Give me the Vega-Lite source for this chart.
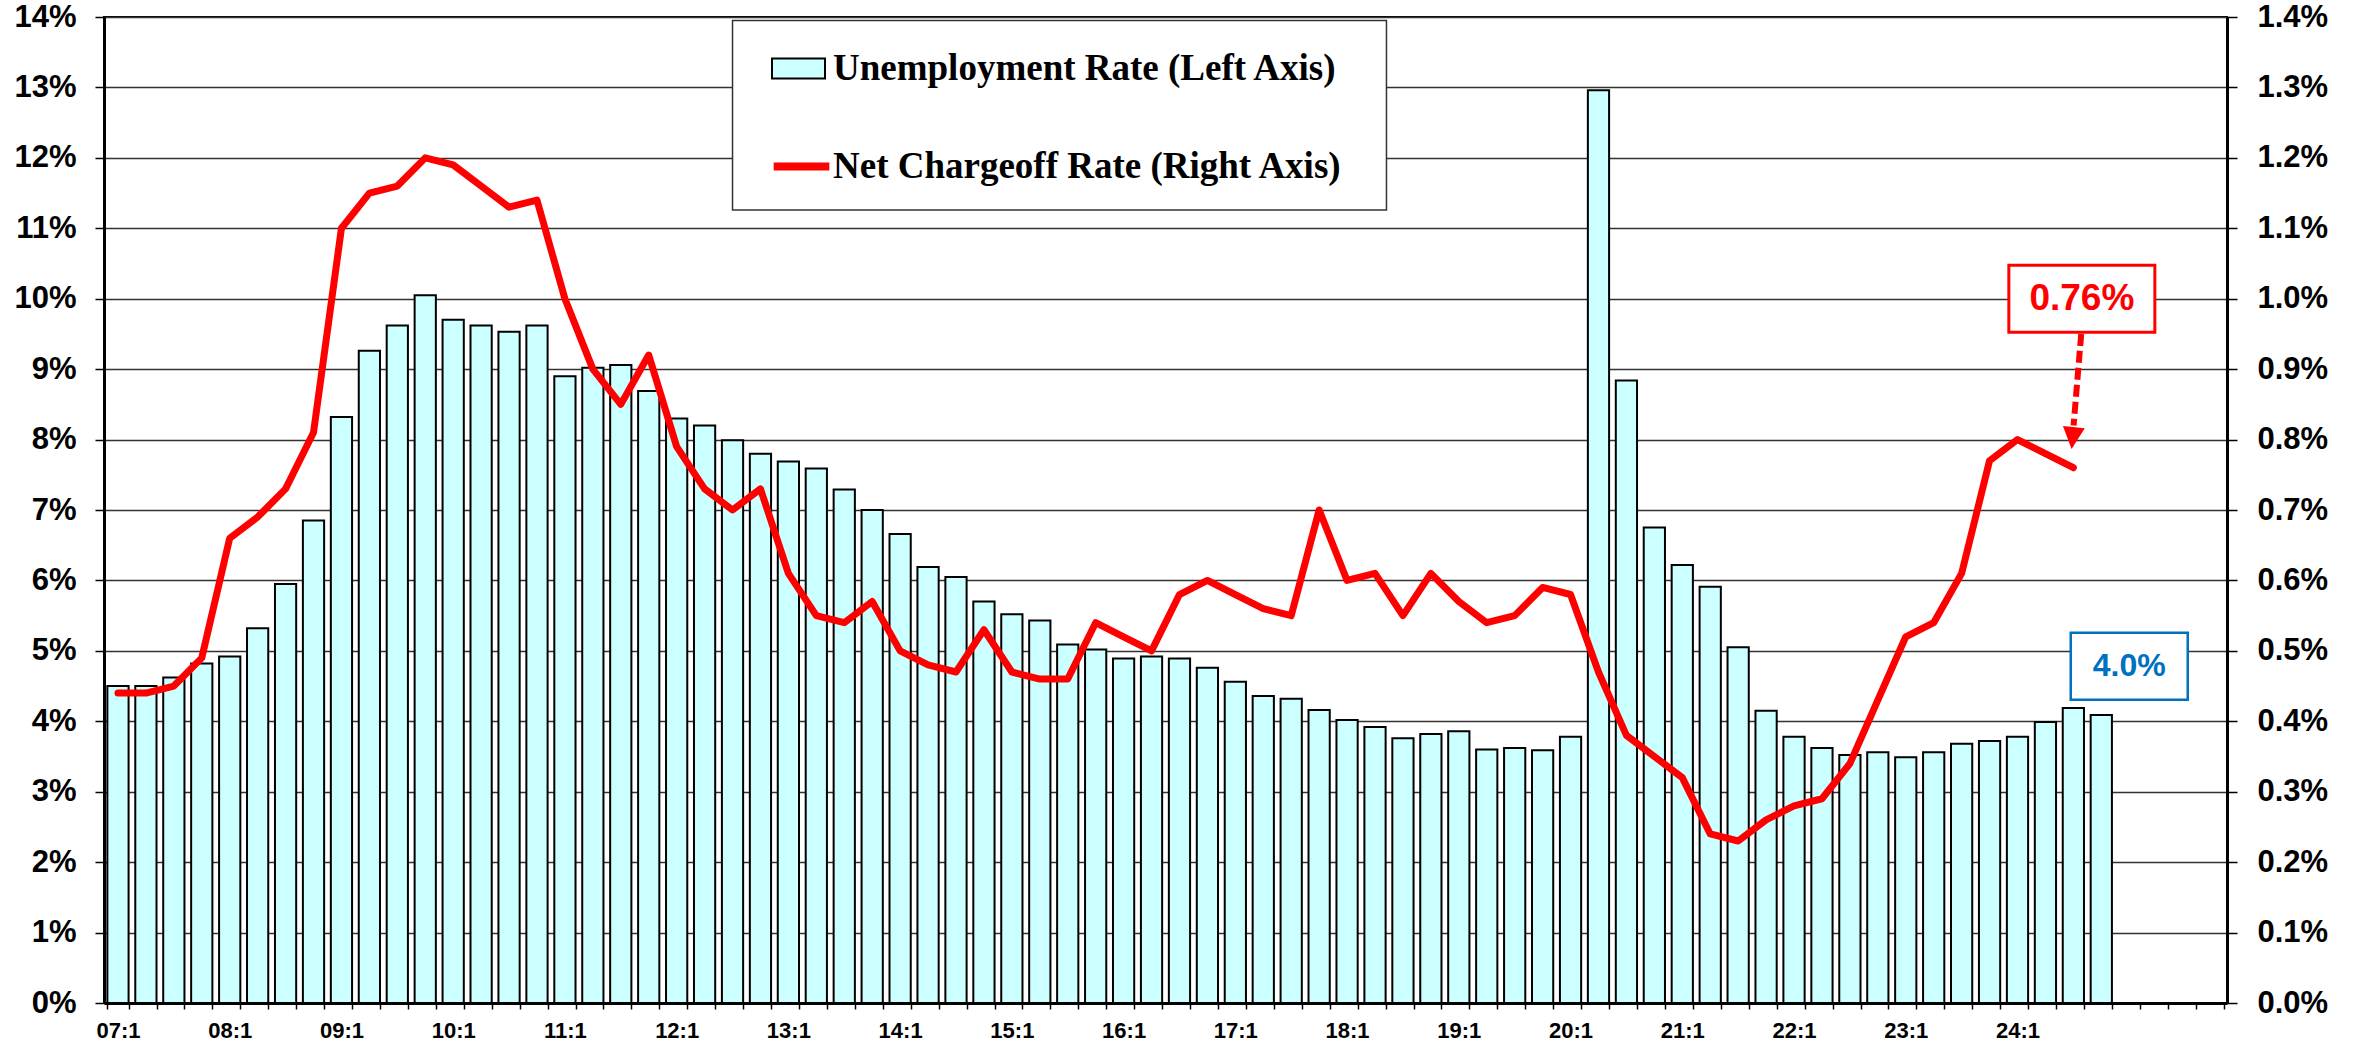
{
  "$schema": "https://vega.github.io/schema/vega-lite/v6.json",
  "autosize": {"type": "none"},
  "padding": {"left": 104, "top": 17, "right": 129, "bottom": 39},
  "width": 2123,
  "height": 986,
  "background": "white",
  "config": {"view": {"stroke": "black", "strokeWidth": 2}, "font": "Liberation Sans"},
  "data": {"values": [
    {"q":"07:1","u":4.5,"n":0.44},{"q":"07:2","u":4.5,"n":0.44},{"q":"07:3","u":4.62,"n":0.45},{"q":"07:4","u":4.82,"n":0.49},
    {"q":"08:1","u":4.92,"n":0.66},{"q":"08:2","u":5.32,"n":0.69},{"q":"08:3","u":5.95,"n":0.73},{"q":"08:4","u":6.85,"n":0.81},
    {"q":"09:1","u":8.32,"n":1.10},{"q":"09:2","u":9.26,"n":1.15},{"q":"09:3","u":9.62,"n":1.16},{"q":"09:4","u":10.05,"n":1.20},
    {"q":"10:1","u":9.70,"n":1.19},{"q":"10:2","u":9.62,"n":1.16},{"q":"10:3","u":9.53,"n":1.13},{"q":"10:4","u":9.62,"n":1.14},
    {"q":"11:1","u":8.90,"n":1.00},{"q":"11:2","u":9.02,"n":0.90},{"q":"11:3","u":9.06,"n":0.85},{"q":"11:4","u":8.69,"n":0.92},
    {"q":"12:1","u":8.30,"n":0.79},{"q":"12:2","u":8.20,"n":0.73},{"q":"12:3","u":7.99,"n":0.70},{"q":"12:4","u":7.80,"n":0.73},
    {"q":"13:1","u":7.69,"n":0.61},{"q":"13:2","u":7.59,"n":0.55},{"q":"13:3","u":7.29,"n":0.54},{"q":"13:4","u":7.00,"n":0.57},
    {"q":"14:1","u":6.66,"n":0.50},{"q":"14:2","u":6.19,"n":0.48},{"q":"14:3","u":6.05,"n":0.47},{"q":"14:4","u":5.70,"n":0.53},
    {"q":"15:1","u":5.52,"n":0.47},{"q":"15:2","u":5.43,"n":0.46},{"q":"15:3","u":5.09,"n":0.46},{"q":"15:4","u":5.02,"n":0.54},
    {"q":"16:1","u":4.89,"n":0.52},{"q":"16:2","u":4.92,"n":0.50},{"q":"16:3","u":4.89,"n":0.58},{"q":"16:4","u":4.76,"n":0.60},
    {"q":"17:1","u":4.56,"n":0.58},{"q":"17:2","u":4.36,"n":0.56},{"q":"17:3","u":4.32,"n":0.55},{"q":"17:4","u":4.16,"n":0.70},
    {"q":"18:1","u":4.02,"n":0.60},{"q":"18:2","u":3.92,"n":0.61},{"q":"18:3","u":3.76,"n":0.55},{"q":"18:4","u":3.82,"n":0.61},
    {"q":"19:1","u":3.86,"n":0.57},{"q":"19:2","u":3.60,"n":0.54},{"q":"19:3","u":3.62,"n":0.55},{"q":"19:4","u":3.59,"n":0.59},
    {"q":"20:1","u":3.78,"n":0.58},{"q":"20:2","u":12.96,"n":0.47},{"q":"20:3","u":8.84,"n":0.38},{"q":"20:4","u":6.75,"n":0.35},
    {"q":"21:1","u":6.22,"n":0.32},{"q":"21:2","u":5.91,"n":0.24},{"q":"21:3","u":5.05,"n":0.23},{"q":"21:4","u":4.15,"n":0.26},
    {"q":"22:1","u":3.78,"n":0.28},{"q":"22:2","u":3.62,"n":0.29},{"q":"22:3","u":3.52,"n":0.34},{"q":"22:4","u":3.56,"n":0.43},
    {"q":"23:1","u":3.49,"n":0.52},{"q":"23:2","u":3.56,"n":0.54},{"q":"23:3","u":3.68,"n":0.61},{"q":"23:4","u":3.72,"n":0.77},
    {"q":"24:1","u":3.78,"n":0.80},{"q":"24:2","u":3.99,"n":0.78},{"q":"24:3","u":4.19,"n":0.76},{"q":"24:4","u":4.09,"n":null}
  ]},
  "layer": [
    {
      "layer": [
        {
          "mark": {"type": "bar", "stroke": "black", "strokeWidth": 2},
          "encoding": {
            "x": {
              "field": "q", "type": "ordinal", "title": null,
              "scale": {
                "domain": ["07:1","07:2","07:3","07:4","08:1","08:2","08:3","08:4","09:1","09:2","09:3","09:4","10:1","10:2","10:3","10:4","11:1","11:2","11:3","11:4","12:1","12:2","12:3","12:4","13:1","13:2","13:3","13:4","14:1","14:2","14:3","14:4","15:1","15:2","15:3","15:4","16:1","16:2","16:3","16:4","17:1","17:2","17:3","17:4","18:1","18:2","18:3","18:4","19:1","19:2","19:3","19:4","20:1","20:2","20:3","20:4","21:1","21:2","21:3","21:4","22:1","22:2","22:3","22:4","23:1","23:2","23:3","23:4","24:1","24:2","24:3","24:4","25:1","25:2","25:3","25:4"],
                "paddingInner": 0.24, "paddingOuter": 0.12
              },
              "axis": {
                "title": null, "labelAngle": 0,
                "labelExpr": "(substring(datum.value, 2) == ':1' && datum.value != '25:1') ? datum.value : ''",
                "labelFont": "Liberation Sans", "labelFontSize": 22, "labelFontWeight": "bold", "labelColor": "black",
                "labelPadding": 11, "labelOverlap": false, "labelBound": false,
                "tickBand": "extent", "tickSize": 6, "tickColor": "black", "tickWidth": 1.5,
                "domainColor": "black", "domainWidth": 3, "grid": false
              }
            },
            "y": {
              "field": "u", "type": "quantitative", "title": null,
              "scale": {"domain": [0, 14], "nice": false},
              "axis": {
                "title": null, "orient": "left",
                "values": [0,1,2,3,4,5,6,7,8,9,10,11,12,13,14],
                "labelExpr": "datum.value + '%'",
                "grid": true, "gridColor": "#333333", "gridWidth": 1.5,
                "domainColor": "black", "domainWidth": 3,
                "tickColor": "black", "tickWidth": 1.5, "tickSize": 9,
                "labelPadding": 19, "labelFont": "Liberation Sans", "labelFontSize": 31, "labelFontWeight": "bold", "labelColor": "black"
              }
            },
            "fill": {
              "datum": "Unemployment Rate (Left Axis)", "type": "nominal",
              "scale": {"range": ["#CCFFFF"]},
              "legend": {
                "title": null, "orient": "none", "legendX": 667, "legendY": 24, "zindex": 1, "padding": 0,
                "symbolType": "M-1,-0.377H1V0.377H-1Z", "symbolSize": 2809,
                "symbolStrokeColor": "black", "symbolStrokeWidth": 2, "symbolOpacity": 1, "symbolOffset": 0,
                "labelOffset": 7,
                "labelFont": "Liberation Serif", "labelFontSize": 37, "labelFontWeight": "bold", "labelColor": "black", "labelLimit": 1000
              }
            }
          }
        },
        {
          "data": {"values": [{}]},
          "mark": {"type": "rect", "fill": "white", "stroke": "#333333", "strokeWidth": 1.5},
          "encoding": {
            "x": {"datum": "12:3", "type": "ordinal", "bandPosition": 0.5, "title": null},
            "x2": {"datum": "18:2", "bandPosition": 1.04},
            "y": {"datum": 13.95, "type": "quantitative", "title": null},
            "y2": {"datum": 11.26}
          }
        },
        {
          "data": {"values": [{}]},
          "mark": {"type": "point", "shape": "M-1,-0.573H1V0.573H-1Z", "size": 13689, "filled": true, "fill": "white", "stroke": "#0070C0", "strokeWidth": 2.5, "opacity": 1},
          "encoding": {
            "x": {"datum": "25:1", "type": "ordinal", "title": null},
            "y": {"datum": 4.78, "type": "quantitative", "title": null}
          }
        },
        {
          "data": {"values": [{}]},
          "mark": {"type": "text", "text": "4.0%", "font": "Liberation Sans", "fontSize": 32, "fontWeight": "bold", "color": "#0070C0", "align": "center", "baseline": "middle"},
          "encoding": {
            "x": {"datum": "25:1", "type": "ordinal", "title": null},
            "y": {"datum": 4.78, "type": "quantitative", "title": null}
          }
        }
      ]
    },
    {
      "layer": [
        {
          "mark": {"type": "line", "strokeWidth": 7, "strokeCap": "round", "strokeJoin": "round"},
          "encoding": {
            "x": {"field": "q", "type": "ordinal", "title": null},
            "y": {
              "field": "n", "type": "quantitative", "title": null,
              "scale": {"domain": [0, 1.4], "nice": false},
              "axis": {
                "title": null, "orient": "right",
                "values": [0,0.1,0.2,0.3,0.4,0.5,0.6,0.7,0.8,0.9,1.0,1.1,1.2,1.3,1.4],
                "labelExpr": "format(datum.value, '.1f') + '%'",
                "grid": false, "domainColor": "black", "domainWidth": 3,
                "tickColor": "black", "tickWidth": 1.5, "tickSize": 10,
                "labelPadding": 20, "labelFont": "Liberation Sans", "labelFontSize": 31, "labelFontWeight": "bold", "labelColor": "black"
              }
            },
            "stroke": {
              "datum": "Net Chargeoff Rate (Right Axis)", "type": "nominal",
              "scale": {"range": ["#FF0000"]},
              "legend": {
                "title": null, "orient": "none", "legendX": 667, "legendY": 119, "zindex": 1, "padding": 0,
                "symbolType": "M-1.05,0H1.05", "symbolSize": 2809,
                "symbolStrokeWidth": 8, "symbolOpacity": 1, "symbolOffset": 0,
                "labelOffset": 1,
                "labelFont": "Liberation Serif", "labelFontSize": 37, "labelFontWeight": "bold", "labelColor": "black", "labelLimit": 1000
              }
            }
          }
        },
        {
          "data": {"values": [{}]},
          "mark": {"type": "rule", "color": "#FF0000", "strokeWidth": 6, "strokeDash": [12, 5]},
          "encoding": {
            "x": {"datum": "24:3", "type": "ordinal", "bandPosition": 0.87, "title": null},
            "x2": {"datum": "24:3", "bandPosition": 0.51},
            "y": {"datum": 0.95, "type": "quantitative", "title": null},
            "y2": {"datum": 0.82}
          }
        },
        {
          "data": {"values": [{}]},
          "mark": {"type": "point", "shape": "M-1,-1L1,-1L0,1Z", "size": 484, "filled": true, "fill": "#FF0000", "strokeWidth": 0, "angle": 6, "opacity": 1},
          "encoding": {
            "x": {"datum": "24:3", "type": "ordinal", "bandPosition": 0.47, "title": null},
            "y": {"datum": 0.802, "type": "quantitative", "title": null}
          }
        },
        {
          "data": {"values": [{}]},
          "mark": {"type": "point", "shape": "M-1,-0.459H1V0.459H-1Z", "size": 21316, "filled": true, "fill": "white", "stroke": "#FF0000", "strokeWidth": 3, "opacity": 1},
          "encoding": {
            "x": {"datum": "24:3", "type": "ordinal", "bandPosition": 0.9, "title": null},
            "y": {"datum": 1.0, "type": "quantitative", "title": null}
          }
        },
        {
          "data": {"values": [{}]},
          "mark": {"type": "text", "text": "0.76%", "font": "Liberation Sans", "fontSize": 37, "fontWeight": "bold", "color": "#FF0000", "align": "center", "baseline": "middle"},
          "encoding": {
            "x": {"datum": "24:3", "type": "ordinal", "bandPosition": 0.9, "title": null},
            "y": {"datum": 1.0, "type": "quantitative", "title": null}
          }
        }
      ]
    }
  ],
  "resolve": {"scale": {"y": "independent"}}
}
